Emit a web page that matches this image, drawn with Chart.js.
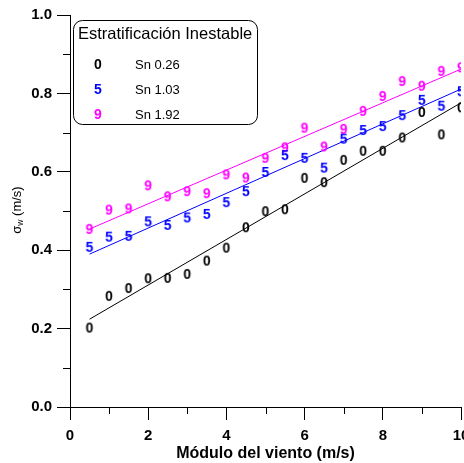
<!DOCTYPE html>
<html>
<head>
<meta charset="utf-8">
<script src="https://cdn.jsdelivr.net/npm/chart.js@4.4.1/dist/chart.umd.min.js"></script>
<style>
html,body{margin:0;padding:0;background:#fff;}
canvas{display:block;}
</style>
</head>
<body>
<canvas id="c" width="464" height="463"></canvas>
<script>
// ---- data ----
const windSpeed = [0.5,1,1.5,2,2.5,3,3.5,4,4.5,5,5.5,6,6.5,7,7.5,8,8.5,9,9.5,10];
const sigmaSn026 = [0.200,0.281,0.301,0.326,0.327,0.337,0.371,0.404,0.456,0.497,0.502,0.582,0.571,0.628,0.651,0.651,0.685,0.750,0.693,0.762];
const sigmaSn103 = [0.406,0.432,0.434,0.471,0.462,0.481,0.490,0.520,0.548,0.597,0.640,0.633,0.608,0.682,0.704,0.714,0.742,0.781,0.766,0.803];
const sigmaSn192 = [0.452,0.501,0.504,0.563,0.535,0.548,0.543,0.591,0.583,0.633,0.660,0.710,0.662,0.707,0.753,0.791,0.829,0.817,0.855,0.864];
const fitX = [0.5, 10];
const fitSn026 = [0.224, 0.776];
const fitSn103 = [0.390, 0.811];
const fitSn192 = [0.454, 0.862];
const seriesLabels = ['Sn 0.26','Sn 1.03','Sn 1.92'];
const seriesSymbols = ['0','5','9'];
const seriesColors = ['#000000','#0000ff','#ff00ff'];
const xTicks = [0,2,4,6,8,10];
const yTicks = [0.0,0.2,0.4,0.6,0.8,1.0];
const xMinorTicks = [1,3,5,7,9];
const yMinorTicks = [0.1,0.3,0.5,0.7,0.9];
const legendTitle = 'Estratificación Inestable';
const xTitle = 'Módulo del viento (m/s)';

const FONT = '"Liberation Sans", Arial, sans-serif';

function glyph(ch, color){
  const cv = document.createElement('canvas');
  cv.width = 12; cv.height = 14;
  const g = cv.getContext('2d');
  g.font = 'bold 14px ' + FONT;
  g.fillStyle = color;
  g.textAlign = 'center';
  g.textBaseline = 'middle';
  g.fillText(ch, 6, 7.5);
  return cv;
}

const pts = (xs, ys) => xs.map((x,i)=>({x:x, y:ys[i]}));
const allSeries = [sigmaSn026, sigmaSn103, sigmaSn192];
const allFits = [fitSn026, fitSn103, fitSn192];

const datasets = [];
allFits.forEach((f,i)=>{
  datasets.push({type:'line', data:pts(fitX,f), borderColor:seriesColors[i], borderWidth:1,
    pointRadius:0, fill:false, tension:0, order:2});
});
allSeries.forEach((s,i)=>{
  datasets.push({type:'scatter', label:seriesLabels[i], data:pts(windSpeed,s),
    pointStyle:glyph(seriesSymbols[i], seriesColors[i]), pointRadius:6, showLine:false, order:1});
});

const extras = {
  id:'extras',
  afterDraw(chart){
    const ctx = chart.ctx, xs = chart.scales.x, ys = chart.scales.y, ca = chart.chartArea;
    ctx.save();
    ctx.strokeStyle = '#000'; ctx.lineWidth = 1;
    // minor ticks
    ctx.beginPath();
    xMinorTicks.forEach(v=>{ const p = Math.round(xs.getPixelForValue(v))+0.5; ctx.moveTo(p, ca.bottom); ctx.lineTo(p, ca.bottom+7); });
    yMinorTicks.forEach(v=>{ const p = Math.round(ys.getPixelForValue(v))+0.5; ctx.moveTo(ca.left-7, p); ctx.lineTo(ca.left, p); });
    ctx.stroke();
    // y axis title sigma_w (m/s)
    ctx.translate(17, 210);
    ctx.rotate(-Math.PI/2);
    ctx.fillStyle = '#000';
    ctx.textBaseline = 'middle';
    const a = 'σ', b = 'w', c = ' (m/s)';
    ctx.font = '13px ' + FONT; const wa = ctx.measureText(a).width;
    ctx.font = '8.5px ' + FONT; const wb = ctx.measureText(b).width;
    ctx.font = '13px ' + FONT; const wc = ctx.measureText(c).width;
    let x0 = -(wa+wb+wc)/2;
    ctx.textAlign = 'left';
    ctx.font = '13px ' + FONT; ctx.fillText(a, x0, 0); x0 += wa;
    ctx.font = '8.5px ' + FONT; ctx.fillText(b, x0, 4); x0 += wb;
    ctx.font = '13px ' + FONT; ctx.fillText(c, x0, 0);
    ctx.restore();

    // legend box
    ctx.save();
    const L = 73.5, T = 20.5, R = 257.5, B = 124.5, r = 9;
    ctx.fillStyle = '#fff';
    ctx.strokeStyle = '#000'; ctx.lineWidth = 1;
    ctx.beginPath();
    ctx.moveTo(L+r, T); ctx.lineTo(R-r, T); ctx.arcTo(R, T, R, T+r, r);
    ctx.lineTo(R, B-r); ctx.arcTo(R, B, R-r, B, r);
    ctx.lineTo(L+r, B); ctx.arcTo(L, B, L, B-r, r);
    ctx.lineTo(L, T+r); ctx.arcTo(L, T, L+r, T, r);
    ctx.closePath(); ctx.fill(); ctx.stroke();
    ctx.fillStyle = '#000';
    ctx.textBaseline = 'middle'; ctx.textAlign = 'left';
    ctx.font = '16.5px ' + FONT;
    ctx.fillText(legendTitle, 78, 34);
    const rows = [64, 89, 114];
    seriesLabels.forEach((lab,i)=>{
      ctx.font = 'bold 14px ' + FONT; ctx.fillStyle = seriesColors[i]; ctx.textAlign = 'center';
      ctx.fillText(seriesSymbols[i], 98, rows[i]+1);
      ctx.font = '13px ' + FONT; ctx.fillStyle = '#000'; ctx.textAlign = 'left';
      ctx.fillText(lab, 135, rows[i]+1);
    });
    ctx.restore();
  }
};

new Chart(document.getElementById('c'), {
  data:{datasets},
  options:{
    responsive:false, animation:false, events:[],
    layout:{autoPadding:false, padding:{top:15, right:3, left:0, bottom:0}},
    plugins:{legend:{display:false}, tooltip:{enabled:false}},
    scales:{
      x:{type:'linear', position:'bottom', min:0, max:10,
        afterBuildTicks(s){ s.ticks = xTicks.map(v=>({value:v})); },
        afterFit(s){ s.height = 56; s.paddingLeft = 0; s.paddingRight = 0; },
        ticks:{color:'#000', font:{family:FONT, size:15, weight:'bold'}, padding:7, maxRotation:0, autoSkip:false,
          callback:v=>String(v)},
        grid:{drawOnChartArea:false, drawTicks:true, tickLength:13, color:'#000', tickWidth:1},
        border:{display:true, color:'#000', width:1},
        title:{display:true, text:xTitle, color:'#000', font:{family:FONT, size:16, weight:'bold'}, padding:{top:0,bottom:0}}
      },
      y:{type:'linear', position:'left', min:0, max:1,
        afterBuildTicks(s){ s.ticks = yTicks.map(v=>({value:v})); },
        afterFit(s){ s.width = 70; s.paddingTop = 0; s.paddingBottom = 0; },
        ticks:{color:'#000', font:{family:FONT, size:15, weight:'bold'}, padding:5, autoSkip:false,
          callback:v=>Number(v).toFixed(1)},
        grid:{drawOnChartArea:false, drawTicks:true, tickLength:13, color:'#000', tickWidth:1},
        border:{display:true, color:'#000', width:1}
      }
    }
  },
  plugins:[extras]
});
</script>
</body>
</html>
